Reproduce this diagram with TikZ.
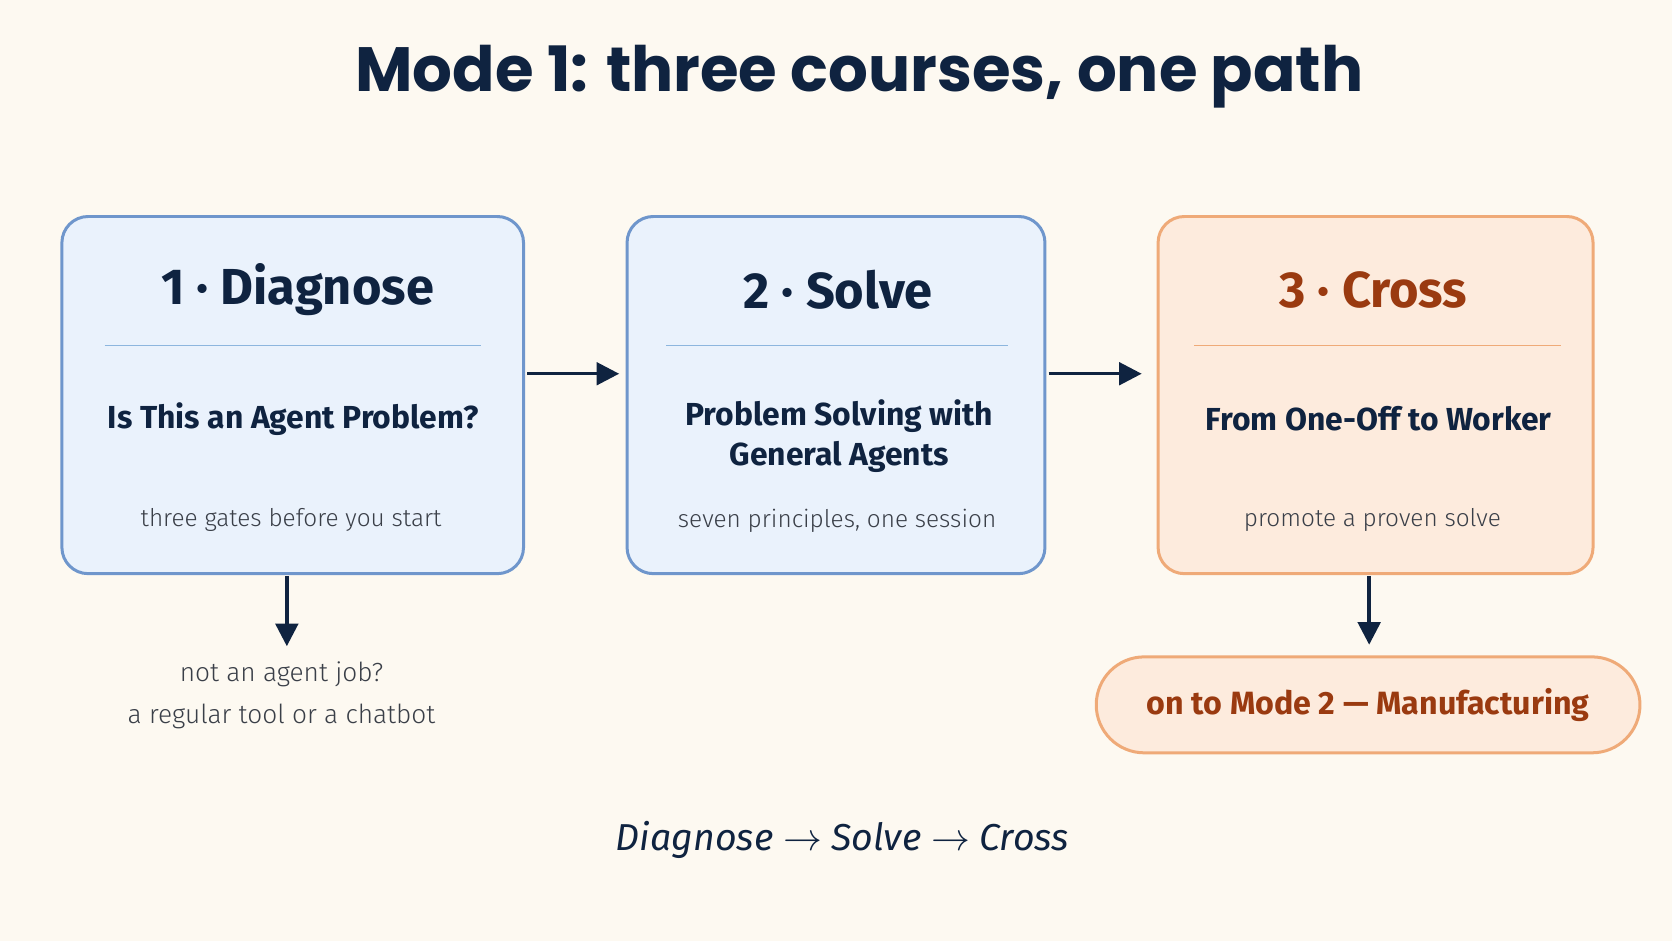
\documentclass[tikz,border=0pt]{standalone}
\usepackage{fontspec}
\setmainfont{Fira Sans}
\newfontfamily\titlefont{Poppins}
\newfontfamily\lightfont{Fira Sans Light}
\usetikzlibrary{arrows.meta,calc}
\definecolor{bgcream}{HTML}{FDF9F1}
\definecolor{navy}{HTML}{0F2340}
\definecolor{bluefill}{HTML}{EAF2FC}
\definecolor{blueline}{HTML}{6F96CC}
\definecolor{bluerule}{HTML}{8DB6DE}
\definecolor{orfill}{HTML}{FDEBDD}
\definecolor{orline}{HTML}{EFAA78}
\definecolor{ortext}{HTML}{9A3A10}
\definecolor{greytext}{HTML}{3A3F48}

\tikzset{
  course/.style={draw=blueline, fill=bluefill, line width=1.6pt, rounded corners=14pt,
    minimum height=6.7cm},
  cross/.style={course, draw=orline, fill=orfill},
  head/.style={font=\fontsize{27}{30}\selectfont\bfseries, text=navy},
  sub/.style={font=\fontsize{17}{21}\selectfont\bfseries, text=navy, align=center},
  note/.style={font=\lightfont\fontsize{13}{18}\selectfont, text=greytext, align=center},
  flow/.style={-{Triangle[length=12pt,width=12pt]}, line width=1.8pt, draw=navy},
}

\begin{document}
\begin{tikzpicture}[x=0.02cm, y=-0.02cm]
    \fill[bgcream] (0,0) rectangle (1568,882);% page
    % Title
    \node[font=\titlefont\fontsize{33.4}{38}\selectfont\bfseries, text=navy] (title) at (806,72) {Mode 1: three courses, one path};
    % the three courses
    \node[course, minimum width=8.66cm] (diag) at (274.5,370.5) {};
    \node[course, minimum width=7.84cm] (solve) at (784,370.5) {};
    \node[cross, minimum width=8.16cm] (cross) at (1290,370.5) {};
    % headings
    \node[head] (diagh) at (279,272) {1 · Diagnose};
    \node[head] (solveh) at (786,272) {2 · Solve};
    \node[head, text=ortext] (crossh) at (1288,272) {3 · Cross};
    \draw[bluerule, line width=1pt] (98,324) -- (451,324);
    \draw[bluerule, line width=1pt] (625,324) -- (945,324);
    \draw[orline, line width=1pt] (1120,324) -- (1464,324);
    % subtitles
    \node[sub] (diags) at (275,393) {Is This an Agent Problem?};
    \node[sub] (solves) at (787,409) {Problem Solving with\\General Agents};
    \node[sub] (crosss) at (1293,393) {From One-Off to Worker};
    % notes
    \node[note] (diagn) at (273,488) {three gates before you start};
    \node[note] (solven) at (785,488) {seven principles, one session};
    \node[note] (crossn) at (1287,488) {promote a proven solve};
    % connectors
    \draw[flow] ($(diag.east)+(2,-20)$) -- ($(solve.west)+(-6,-20)$);
    \draw[flow] ($(solve.east)+(2,-20)$) -- ($(cross.west)+(-14,-20)$);
    \coordinate (offend) at (269,606);
    \draw[flow] (269,540) -- (offend);
    \node[note, font=\lightfont\fontsize{14}{22}\selectfont] (offtext) at (264,652) {not an agent job?\\a regular tool or a chatbot};
    \node[draw=orline, fill=orfill, line width=1.6pt, rounded corners=45*0.02cm,
        minimum width=10.2cm, minimum height=1.8cm, text=ortext,
        font=\fontsize{17.2}{22}\selectfont\bfseries] (mode2) at (1283,661) {on to Mode 2 — Manufacturing};
    \draw[flow] (1284,540) -- ($(mode2.north)+(1,-10)$);
    % bottom line
    \node[font=\fontsize{20}{24}\selectfont\itshape, text=navy] (path) at (790,788) {Diagnose $\rightarrow$ Solve $\rightarrow$ Cross};
\end{tikzpicture}
\end{document}
